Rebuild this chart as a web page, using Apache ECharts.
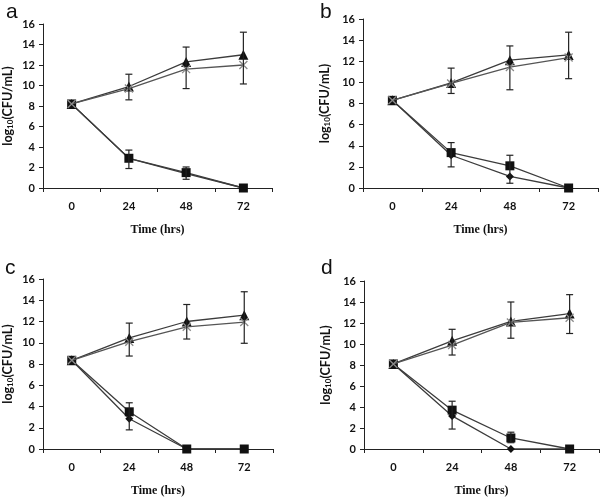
<!DOCTYPE html>
<html><head><meta charset="utf-8">
<script src="https://cdn.jsdelivr.net/npm/echarts@6/dist/echarts.min.js"></script>
<style>html,body{margin:0;padding:0;background:#fff}#c{width:600px;height:498px}</style>
</head><body><div id="c"></div>
<script>
// ---- data ----
const categories = ['0', '24', '48', '72'];
const yTicks = [0, 2, 4, 6, 8, 10, 12, 14, 16];
const panelLetters = ['a', 'b', 'c', 'd'];

// panel a
const aTriangle = [8.2, 9.9, 12.3, 13.0];
const aCross    = [8.2, 9.7, 11.6, 12.0];
const aSquare   = [8.2, 2.9, 1.5, 0];
const aDiamond  = [8.2, 2.9, 1.4, 0];
const aErrUp    = [[1, 8.6, 11.1], [2, 9.7, 13.75], [3, 10.15, 15.2]];
const aErrDown  = [[1, 1.9, 3.7], [2, 0.85, 2.05]];
// panel b
const bTriangle = [8.3, 9.95, 12.1, 12.6];
const bCross    = [8.3, 9.9, 11.45, 12.35];
const bSquare   = [8.3, 3.35, 2.1, 0];
const bDiamond  = [8.3, 3.1, 1.1, 0];
const bErrUp    = [[1, 8.95, 11.35], [2, 9.3, 13.45], [3, 10.35, 14.75]];
const bErrDown  = [[1, 2.0, 4.3], [2, 0.45, 3.1]];
// panel c
const cTriangle = [8.35, 10.45, 12.0, 12.6];
const cCross    = [8.35, 10.1, 11.5, 11.95];
const cSquare   = [8.35, 3.5, 0, 0];
const cDiamond  = [8.35, 2.85, 0, 0];
const cErrUp    = [[1, 8.75, 11.85], [2, 10.35, 13.6], [3, 9.95, 14.8]];
const cErrDown  = [[1, 1.8, 4.35]];
// panel d
const dTriangle = [8.1, 10.3, 12.15, 12.9];
const dCross    = [8.1, 9.9, 12.05, 12.5];
const dSquare   = [8.1, 3.7, 1.05, 0];
const dDiamond  = [8.1, 3.15, 0, 0];
const dErrUp    = [[1, 8.95, 11.4], [2, 10.55, 14.0], [3, 11.0, 14.7]];
const dErrDown  = [[1, 1.9, 4.55], [2, 0.6, 1.6]];

const panels = [
  {tri: aTriangle, cross: aCross, sq: aSquare, dia: aDiamond, up: aErrUp, down: aErrDown},
  {tri: bTriangle, cross: bCross, sq: bSquare, dia: bDiamond, up: bErrUp, down: bErrDown},
  {tri: cTriangle, cross: cCross, sq: cSquare, dia: cDiamond, up: cErrUp, down: cErrDown},
  {tri: dTriangle, cross: dCross, sq: dSquare, dia: dDiamond, up: dErrUp, down: dErrDown}
];

// ---- layout ----
const grids = [
  {left: 40, top: 24, width: 232, height: 164},
  {left: 363, top: 19, width: 235, height: 169},
  {left: 40, top: 279, width: 233, height: 171},
  {left: 364, top: 281, width: 235, height: 169}
];
const letterPos = [[6, 2], [320, 2], [5, 258], [321, 258]];
const yNameGap = [29, 32, 29, 32];

const lineColor = '#3c3c3c';
const labelFont = {fontFamily: 'Lato', fontWeight: 'bold', fontSize: 11, color: '#111'};

function errRender(params, api) {
  const x = api.value(0);
  const lo = api.coord([x, api.value(1)]);
  const hi = api.coord([x, api.value(2)]);
  const w = 3.5;
  const st = {stroke: '#222', lineWidth: 1.2};
  return {type: 'group', children: [
    {type: 'line', shape: {x1: lo[0], y1: lo[1], x2: hi[0], y2: hi[1]}, style: st},
    {type: 'line', shape: {x1: lo[0] - w, y1: lo[1], x2: lo[0] + w, y2: lo[1]}, style: st},
    {type: 'line', shape: {x1: hi[0] - w, y1: hi[1], x2: hi[0] + w, y2: hi[1]}, style: st}
  ]};
}

const option = {
  backgroundColor: '#fff',
  animation: false,
  graphic: panelLetters.map((t, i) => ({
    type: 'text', left: letterPos[i][0], top: letterPos[i][1],
    style: {text: t, font: '21px "Liberation Sans", Arial', fill: '#111'}
  })),
  grid: grids,
  xAxis: grids.map((g, i) => ({
    type: 'category', gridIndex: i, data: categories, boundaryGap: true,
    name: 'Time (hrs)', nameLocation: 'middle', nameGap: 36,
    nameTextStyle: {fontFamily: 'Liberation Serif', fontWeight: 'bold', fontSize: 12, color: '#111'},
    axisLine: {lineStyle: {color: '#222', width: 1}},
    axisTick: {show: true, alignWithLabel: false, length: 4, inside: false, lineStyle: {color: '#222'}},
    axisLabel: Object.assign({margin: 13}, labelFont),
    splitLine: {show: false}
  })),
  yAxis: grids.map((g, i) => ({
    type: 'value', gridIndex: i, min: 0, max: 16, interval: 2,
    name: 'log{sub|10}(CFU/mL)', nameLocation: 'middle', nameGap: yNameGap[i], nameRotate: 90,
    nameTextStyle: {fontFamily: 'Lato', fontWeight: 'bold', fontSize: 12.5, color: '#111',
      rich: {sub: {fontFamily: 'Lato', fontWeight: 'bold', fontSize: 8, color: '#111', verticalAlign: 'bottom', padding: [4, 0, 0, 0]}}},
    axisLine: {show: true, lineStyle: {color: '#222', width: 1}},
    axisTick: {show: true, length: 4, lineStyle: {color: '#222'}},
    axisLabel: Object.assign({margin: 8, formatter: v => yTicks.includes(v) ? String(v) : ''}, labelFont),
    splitLine: {show: false}
  })),
  series: []
};

panels.forEach((p, i) => {
  const common = {type: 'line', xAxisIndex: i, yAxisIndex: i, lineStyle: {color: lineColor, width: 1.3}, z: 3};
  option.series.push(Object.assign({}, common, {name: 'diamond' + i, data: p.dia, symbol: 'diamond', symbolSize: 8, itemStyle: {color: '#111'}}));
  option.series.push(Object.assign({}, common, {name: 'square' + i, data: p.sq, symbol: 'rect', symbolSize: 9, itemStyle: {color: '#111'}}));
  option.series.push(Object.assign({}, common, {name: 'tri' + i, data: p.tri, symbol: 'triangle', symbolSize: 10, itemStyle: {color: '#111'}}));
  option.series.push(Object.assign({}, common, {name: 'cross' + i, data: p.cross, symbol: 'path://M0,0L10,10M10,0L0,10', symbolSize: 8,
    lineStyle: {color: '#555', width: 1.3},
    itemStyle: {color: 'none', borderColor: '#8a8a8a', borderWidth: 1.3}, z: 4}));
  [p.up, p.down].forEach(arr => {
    option.series.push({type: 'custom', xAxisIndex: i, yAxisIndex: i, data: arr, renderItem: errRender,
      encode: {x: 0, y: [1, 2]}, z: 5, silent: true});
  });
});

const chart = echarts.init(document.getElementById('c'), null, {renderer: 'canvas'});
chart.setOption(option);
</script></body></html>
